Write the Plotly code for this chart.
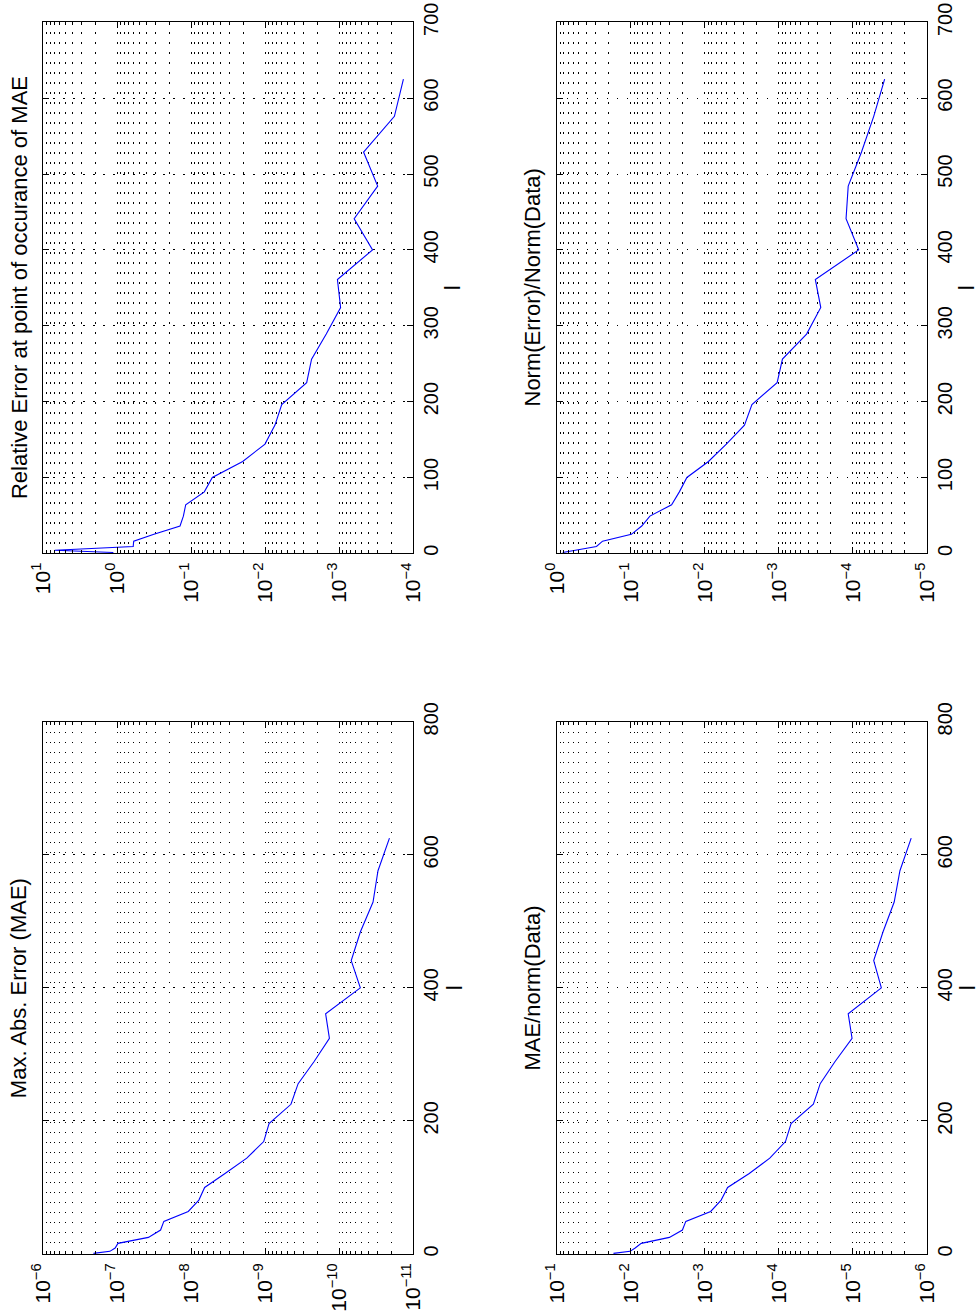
import plotly.graph_objects as go

# l = n^2 for n = 1..25
l_values = [1, 4, 9, 16, 25, 36, 49, 64, 81, 100, 121, 144, 169, 196, 225,
            256, 289, 324, 361, 400, 441, 484, 529, 576, 625]

rel_err_at_mae = [1.13, 7.0, 0.61, 0.60, 0.32, 0.142, 0.128, 0.119, 0.0667, 0.052,
                  0.0202, 0.0101, 0.0074, 0.0060, 0.00276, 0.00237, 0.0015, 9.6e-4,
                  1.06e-3, 3.55e-4, 6.3e-4, 3.03e-4, 4.7e-4, 1.8e-4, 1.36e-4]

norm_err_rel = [0.83, 0.56, 0.29, 0.24, 0.098, 0.071, 0.055, 0.028, 0.022, 0.0174,
                0.0089, 0.0051, 0.0029, 0.0023, 1.05e-3, 8.9e-4, 4.2e-4, 2.7e-4,
                3.2e-4, 8.3e-5, 1.23e-4, 1.15e-4, 7.6e-5, 5.2e-5, 3.7e-5]

max_abs_err = [2.1e-7, 1.26e-7, 1.07e-7, 9.8e-8, 3.8e-8, 2.6e-8, 2.35e-8, 1.10e-8,
               7.9e-9, 6.6e-9, 3.5e-9, 1.78e-9, 1.05e-9, 8.9e-10, 4.5e-10, 3.6e-10,
               2.2e-10, 1.36e-10, 1.53e-10, 5.2e-11, 6.9e-11, 5.2e-11, 3.5e-11,
               3.0e-11, 2.1e-11]

mae_over_norm = [0.0171, 0.0102, 0.0087, 0.0072, 0.0030, 0.0020, 0.0018, 8.3e-4,
                 6.0e-4, 4.9e-4, 2.5e-4, 1.32e-4, 8.1e-5, 6.8e-5, 3.4e-5, 2.75e-5,
                 1.74e-5, 1.02e-5, 1.15e-5, 4.1e-6, 5.2e-6, 3.9e-6, 2.75e-6,
                 2.3e-6, 1.62e-6]

titles = ["Relative Error at point of occurance of MAE",
          "Norm(Error)/Norm(Data)",
          "Max. Abs. Error (MAE)",
          "MAE/norm(Data)"]
series = [rel_err_at_mae, norm_err_rel, max_abs_err, mae_over_norm]
decades = [(1, -4), (0, -5), (-6, -11), (-1, -6)]   # log-axis range, left to right
l_ranges = [(0, 700, 100), (0, 700, 100), (0, 800, 200), (0, 800, 200)]

W, H = 980, 1313
# panel boxes in pixels: (left, right, top, bottom)
boxes = [(43.3, 413.3, 22.3, 553.3),
         (556.7, 926.7, 22.3, 553.3),
         (43.3, 413.3, 721.7, 1254.0),
         (556.7, 926.7, 721.7, 1254.0)]

FONT = "Liberation Sans, Arial, Helvetica, sans-serif"
DOTS = "1.5px,8.5px"


def sup(k):
    s = str(k).replace("-", "\u2212")
    return "10<sup>" + s + "</sup>"


fig = go.Figure()
layout = {}
annotations = []

for i in range(4):
    n = "" if i == 0 else str(i + 1)
    xa, ya = "x" + n, "y" + n
    hi, lo = decades[i]
    l0, l1, ldt = l_ranges[i]
    left, right, top, bottom = boxes[i]

    fig.add_trace(go.Scatter(x=series[i], y=l_values, mode="lines",
                             line=dict(color="#0000ff", width=1.1),
                             xaxis=xa, yaxis=ya, showlegend=False,
                             hoverinfo="skip"))

    major = [10.0 ** k for k in range(lo, hi + 1)]
    minor = [m * 10.0 ** k for k in range(lo, hi) for m in range(2, 10)]

    layout["xaxis" + n] = dict(
        type="log", range=[hi, lo], domain=[left / W, right / W],
        anchor=ya, side="bottom", automargin=False,
        tickmode="array", tickvals=major, ticktext=[sup(k) for k in range(lo, hi + 1)],
        tickangle=-90, ticks="inside", ticklen=6, tickcolor="black",
        showline=True, linecolor="black", linewidth=1, mirror="allticks",
        showgrid=True, gridcolor="black", gridwidth=1, griddash=DOTS,
        minor=dict(tickmode="array", tickvals=minor, ticks="inside", ticklen=3,
                   tickcolor="black", showgrid=True, gridcolor="black",
                   gridwidth=1, griddash=DOTS),
        tickfont=dict(family=FONT, size=21, color="black"),
        zeroline=False, fixedrange=True,
    )
    layout["yaxis" + n] = dict(
        range=[l0, l1], dtick=ldt, tick0=0,
        domain=[1 - bottom / H, 1 - top / H], anchor=xa, side="right",
        automargin=False,
        tickangle=-90, ticks="inside", ticklen=6, tickcolor="black",
        showline=True, linecolor="black", linewidth=1, mirror="allticks",
        showgrid=True, gridcolor="black", gridwidth=1, griddash=DOTS,
        tickfont=dict(family=FONT, size=20, color="black"),
        title=dict(text="l", font=dict(family=FONT, size=22, color="black"),
                   standoff=3),
        zeroline=False, fixedrange=True,
    )
    annotations.append(dict(
        text=titles[i], textangle=-90, showarrow=False,
        xref="paper", yref="paper", x=(left - 24) / W,
        y=1 - (top + bottom) / 2 / H, xanchor="center", yanchor="middle",
        font=dict(family=FONT, size=22, color="black"),
    ))

fig.update_layout(
    width=W, height=H, margin=dict(l=0, r=0, t=0, b=0),
    paper_bgcolor="white", plot_bgcolor="white", showlegend=False,
    annotations=annotations, **layout,
)

fig.write_html("out.html", config={"displayModeBar": False})
